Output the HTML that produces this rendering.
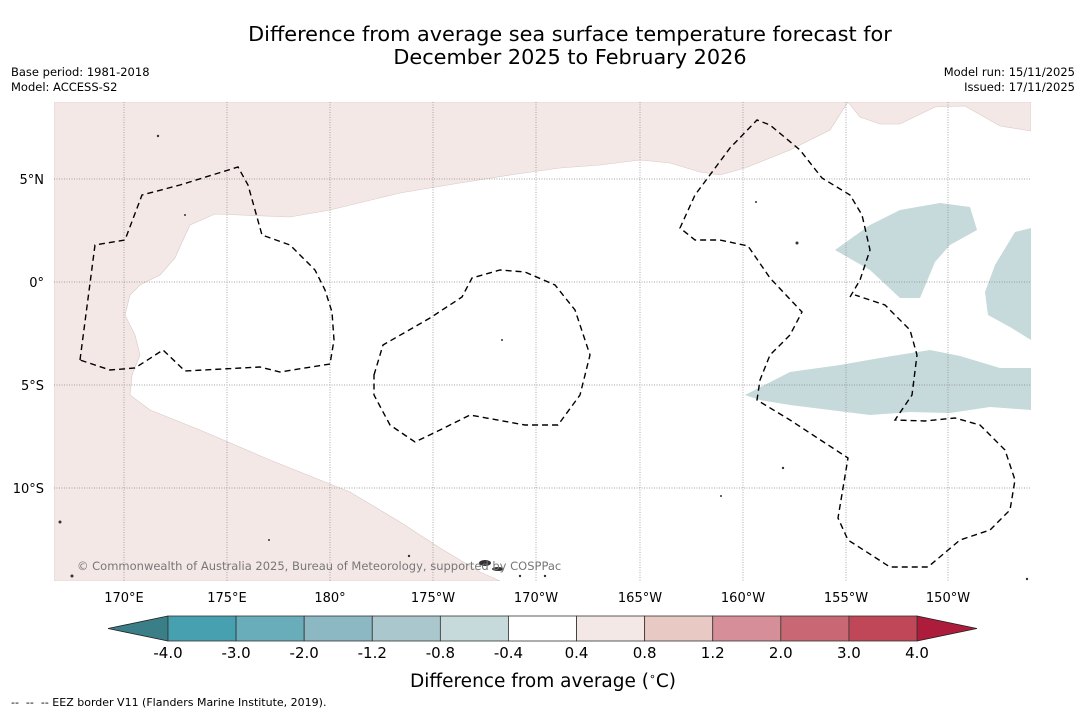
<!DOCTYPE html>
<html><head><meta charset="utf-8"><style>
body{margin:0;background:#fff;font-family:"DejaVu Sans","Liberation Sans",sans-serif;}
svg{display:block}
</style></head><body>
<svg width="1085" height="713" viewBox="0 0 1085 713" xmlns="http://www.w3.org/2000/svg">
<text x="570" y="41" text-anchor="middle" font-size="20.8" fill="#000">Difference from average sea surface temperature forecast for</text>
<text x="570" y="64" text-anchor="middle" font-size="20.8" fill="#000">December 2025 to February 2026</text>
<text x="11" y="76" font-size="11.5">Base period: 1981-2018</text>
<text x="11" y="91" font-size="11.5">Model: ACCESS-S2</text>
<text x="1075" y="76" font-size="11.5" text-anchor="end">Model run: 15/11/2025</text>
<text x="1075" y="91" font-size="11.5" text-anchor="end">Issued: 17/11/2025</text>
<g>
<clipPath id="mc"><rect x="54" y="102" width="977" height="479"/></clipPath>
<rect x="54" y="102" width="977" height="479" fill="#fff"/>
<g clip-path="url(#mc)">
<path fill="#f4e8e6" stroke="#d8c8c6" stroke-width="0.6" d="M54,102 L848,102 L830,130 L790,150 L745,168 L720,175 L700,172 L670,163 L640,160 L600,165 L560,168 L510,175 L460,183 L400,193 L330,210 L290,217 L240,215 L215,214 L190,225 L183,240 L175,258 L160,275 L140,285 L130,295 L125,315 L135,335 L140,355 L132,375 L130,395 L150,410 L200,430 L270,460 L350,492 L400,522 L440,548 L480,572 L500,581 L54,581 Z"/>
<path fill="#f4e8e6" stroke="#d8c8c6" stroke-width="0.6" d="M848,102 L860,117 L880,124 L900,124 L935,107 L965,106 L1000,126 L1031,131 L1031,102 Z"/>
<path fill="#c6d9db" d="M835,250 L870,225 L900,210 L940,203 L970,207 L977,230 L950,245 L935,262 L920,298 L900,298 L870,270 Z"/>
<path fill="#c6d9db" d="M985,292 L995,265 L1015,232 L1031,228 L1031,340 L1010,327 L988,315 Z"/>
<path fill="#c6d9db" d="M745,395 L790,372 L840,365 L880,358 L930,350 L960,356 L1000,368 L1031,368 L1031,410 L990,407 L950,413 L910,412 L870,415 L830,410 L790,405 L760,400 Z"/>
<g stroke="#888" stroke-width="0.7" stroke-dasharray="1,1.5">
<line x1="124" y1="102" x2="124" y2="581"/><line x1="227" y1="102" x2="227" y2="581"/><line x1="330" y1="102" x2="330" y2="581"/><line x1="433" y1="102" x2="433" y2="581"/><line x1="536" y1="102" x2="536" y2="581"/><line x1="640" y1="102" x2="640" y2="581"/><line x1="743" y1="102" x2="743" y2="581"/><line x1="846" y1="102" x2="846" y2="581"/><line x1="948" y1="102" x2="948" y2="581"/>
<line x1="54" y1="179" x2="1031" y2="179"/><line x1="54" y1="282" x2="1031" y2="282"/><line x1="54" y1="385" x2="1031" y2="385"/><line x1="54" y1="488" x2="1031" y2="488"/>
</g>
<g fill="none" stroke="#000" stroke-width="1.4" stroke-dasharray="6,4">
<path d="M80,360 L95,245 L125,240 L142,195 L180,185 L238,167 L248,185 L262,235 L290,245 L315,270 L325,290 L332,312 L334,340 L330,364 L280,372 L260,367 L185,371 L163,350 L135,368 L110,370 Z"/>
<path d="M374,375 L383,345 L430,318 L462,297 L472,278 L500,270 L525,272 L555,285 L575,310 L590,355 L580,395 L558,425 L525,425 L470,415 L440,430 L415,442 L390,425 L374,395 Z"/>
<path d="M850,297 L860,280 L870,250 L862,215 L850,195 L822,178 L800,150 L770,125 L757,120 L730,148 L695,195 L680,228 L695,240 L720,240 L748,246 L770,278 L802,312 L790,335 L770,355 L760,380 L757,400 L790,420 L848,458 L838,518 L848,540 L890,567 L928,567 L960,540 L990,530 L1010,510 L1015,480 L1005,450 L980,425 L955,418 L925,421 L895,420 L912,395 L917,355 L910,330 L885,305 L855,295"/>
</g>
<g fill="#333">
<ellipse cx="485" cy="563" rx="6" ry="3"/><ellipse cx="498" cy="569" rx="6" ry="2"/><circle cx="60" cy="522" r="1.5"/><circle cx="72" cy="576" r="1.5"/><circle cx="158" cy="136" r="1.2"/><circle cx="185" cy="215" r="1"/><circle cx="797" cy="243" r="1.5"/><circle cx="756" cy="202" r="1"/><circle cx="502" cy="340" r="1"/><circle cx="721" cy="496" r="1"/><circle cx="520" cy="576" r="1.2"/><circle cx="545" cy="576" r="1.2"/><circle cx="783" cy="468" r="1.2"/><circle cx="1027" cy="579" r="1.2"/><circle cx="269" cy="540" r="1"/><circle cx="409" cy="556" r="1.2"/>
</g>
</g>
<text x="77" y="570" font-size="11.5" fill="#777">© Commonwealth of Australia 2025, Bureau of Meteorology, supported by COSPPac</text>
</g>
<g font-size="13" fill="#000" text-anchor="middle">
<text x="124" y="602">170°E</text><text x="227" y="602">175°E</text><text x="330" y="602">180°</text><text x="433" y="602">175°W</text><text x="536" y="602">170°W</text><text x="640" y="602">165°W</text><text x="743" y="602">160°W</text><text x="846" y="602">155°W</text><text x="948" y="602">150°W</text>
</g>
<g font-size="13" fill="#000" text-anchor="end">
<text x="44" y="184">5°N</text><text x="44" y="287">0°</text><text x="44" y="390">5°S</text><text x="44" y="493">10°S</text>
</g>
<g id="cbar"></g>
<text x="543" y="687" font-size="18.5" text-anchor="middle">Difference from average (<tspan font-size="11" dy="-7">∘</tspan><tspan dy="7">C)</tspan></text>
<text x="11" y="706" font-size="11" xml:space="preserve">--  --  -- EEZ border V11 (Flanders Marine Institute, 2019).</text>
</svg>
<script>
const levels=[-4.0,-3.0,-2.0,-1.2,-0.8,-0.4,0.4,0.8,1.2,2.0,3.0,4.0];
const tickLabels=["-4.0","-3.0","-2.0","-1.2","-0.8","-0.4","0.4","0.8","1.2","2.0","3.0","4.0"];
const binColors=["#47a0b0","#6aadba","#8bb8c3","#a9c7cc","#c6d9db","#ffffff","#f4e8e6","#e8c9c4","#d68f98","#c96874","#bf4757"];
const underColor="#3a7f87", overColor="#ad1c3a";
const NS="http://www.w3.org/2000/svg";
const g=document.getElementById('cbar');
const x0=168,x1=917,y0=616,y1=641;
const bw=(x1-x0)/(levels.length-1);
function xAt(i){return x0+i*bw;}
function mk(t,a){const e=document.createElementNS(NS,t);for(const k in a)e.setAttribute(k,a[k]);g.appendChild(e);return e;}
let tri=mk('polygon',{points:`${x0},${y0} ${x0},${y1} 108,${(y0+y1)/2}`,fill:underColor,stroke:'#222','stroke-width':0.8});


tri=mk('polygon',{points:`${x1},${y0} ${x1},${y1} 977,${(y0+y1)/2}`,fill:overColor,stroke:'#222','stroke-width':0.8});


binColors.forEach((c,i)=>{
  const r=mk('rect',{x:xAt(i),y:y0,width:bw,height:y1-y0,fill:c,stroke:'#333','stroke-width':0.8});
  
  
});
tickLabels.forEach((t,i)=>{
  const e=mk('text',{x:xAt(i),y:658,'font-size':15,'text-anchor':'middle'});
  e.textContent=t;
  
  
});
</script>
</body></html>
